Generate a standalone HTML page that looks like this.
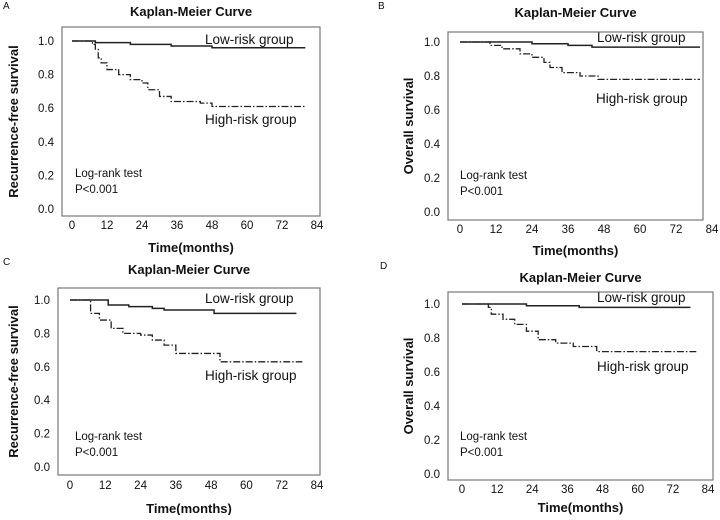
<!DOCTYPE html>
<html><head><meta charset="utf-8"><style>
body{margin:0;background:#fff;}
svg text{font-family:"Liberation Sans",sans-serif;fill:#111;}
</style></head><body>
<svg id="fig" width="720" height="515" viewBox="0 0 720 515"></svg>
<script>
const yTicks=[0,0.2,0.4,0.6,0.8,1.0];
const xTicks=[0,12,24,36,48,60,72,84];
const aLowT=[0,6,8,20,34,48,80], aLowS=[1,1,0.99,0.98,0.97,0.96,0.96];
const aHighT=[0,6,7,8,9,10,12,16,20,24,26,30,34,44,48,80], aHighS=[1,1,0.98,0.95,0.9,0.87,0.83,0.8,0.77,0.75,0.71,0.67,0.64,0.63,0.61,0.61];
const bLowT=[0,10,24,36,44,80], bLowS=[1,1,0.99,0.98,0.97,0.97];
const bHighT=[0,8,10,14,20,24,28,30,34,40,46,80], bHighS=[1,1,0.98,0.96,0.93,0.91,0.88,0.85,0.82,0.8,0.78,0.78];
const cLowT=[0,12,13,20,28,32,48,49,77], cLowS=[1,1,0.97,0.96,0.95,0.94,0.94,0.92,0.92];
const cHighT=[0,6,7,10,14,18,24,28,32,36,50,51,79], cHighS=[1,1,0.92,0.88,0.83,0.8,0.79,0.76,0.73,0.68,0.68,0.63,0.63];
const dLowT=[0,20,22,40,78], dLowS=[1,1,0.99,0.98,0.98];
const dHighT=[0,8,9,10,14,18,22,26,32,38,46,80], dHighS=[1,1,0.98,0.94,0.91,0.88,0.84,0.79,0.77,0.75,0.72,0.72];

const NS='http://www.w3.org/2000/svg';
const svg=document.getElementById('fig');
function mk(tag,attrs,parent,txt){const e=document.createElementNS(NS,tag);for(const k in attrs)e.setAttribute(k,attrs[k]);if(txt!==undefined)e.textContent=txt;(parent||svg).appendChild(e);return e;}

const panels=[
 {id:'a',letter:'A',lx:3,ly:9,box:[62,27,320,216],x0:72,x84:317,y1:41,y0:209,xl:225,xt:247,tt:12,ytitle:'Recurrence-free survival',yt:18,
  low:[aLowT,aLowS],high:[aHighT,aHighS],lowLab:[205,44],highLab:[205,124],lr:[75,177]},
 {id:'b',letter:'B',lx:378,ly:9,box:[448,32,703,220],x0:460,x84:712,y1:42,y0:212,xl:229,xt:250,tt:13,ytitle:'Overall survival',yt:413,
  low:[bLowT,bLowS],high:[bHighT,bHighS],lowLab:[597,42],highLab:[596,103],lr:[460,179]},
 {id:'c',letter:'C',lx:3,ly:265,box:[58,288,320,475],x0:70,x84:317,y1:300,y0:467,xl:485,xt:508,tt:270,ytitle:'Recurrence-free survival',yt:18,
  low:[cLowT,cLowS],high:[cHighT,cHighS],lowLab:[205,303],highLab:[205,380],lr:[75,440]},
 {id:'d',letter:'D',lx:380,ly:269,box:[448,292,713,480],x0:462,x84:708,y1:304,y0:474,xl:489,xt:507,tt:278,ytitle:'Overall survival',yt:413,
  low:[dLowT,dLowS],high:[dHighT,dHighS],lowLab:[597,302],highLab:[597,371],lr:[460,440]}
];

panels.forEach(p=>{
 const g=mk('g',{});
 
 
 const X=t=>p.x0+(p.x84-p.x0)*t/84, Y=s=>p.y0+(p.y1-p.y0)*s;
 const cx=(p.box[0]+p.box[2])/2, cy=(p.box[1]+p.box[3])/2;
 const L=mk('text',{x:p.lx,y:p.ly,'font-size':10},g,p.letter);
 
 const T=mk('text',{x:cx,y:p.tt+4,'font-size':13,'font-weight':'bold','text-anchor':'middle'},g,'Kaplan-Meier Curve');
 
 const B=mk('rect',{x:p.box[0],y:p.box[1],width:p.box[2]-p.box[0],height:p.box[3]-p.box[1],fill:'none',stroke:'#777','stroke-width':1.2},g);
 
 yTicks.forEach(v=>{const t=mk('text',{x:p.box[0]-8,y:Y(v)+4,'font-size':11.5,'text-anchor':'end'},g,v.toFixed(1));
  });
 xTicks.forEach(v=>{const t=mk('text',{x:X(v),y:p.xl+4,'font-size':11.5,'text-anchor':'middle'},g,String(v));
  });
 const xt=mk('text',{x:cx,y:p.xt+5,'font-size':13,'font-weight':'bold','text-anchor':'middle'},g,'Time(months)');
 
 const yt=mk('text',{x:0,y:0,'font-size':13,'font-weight':'bold','text-anchor':'middle',transform:`translate(${p.yt},${cy}) rotate(-90)`},g,p.ytitle);
 
 function step(T,S){let d='M'+X(T[0])+','+Y(S[0]);for(let i=1;i<T.length;i++){d+=' H'+X(T[i])+' V'+Y(S[i]);}return d;}
 const hl=mk('path',{d:step(p.high[0],p.high[1]),fill:'none',stroke:'#222','stroke-width':1.3,'stroke-dasharray':'7,2,1.5,2'},g);
 
 const ll=mk('path',{d:step(p.low[0],p.low[1]),fill:'none',stroke:'#222','stroke-width':1.5},g);
 
 const lt=mk('text',{x:p.lowLab[0],y:p.lowLab[1],'font-size':13.5},g,'Low-risk group');
 
 const ht=mk('text',{x:p.highLab[0],y:p.highLab[1],'font-size':13.5},g,'High-risk group');
 
 const r1=mk('text',{x:p.lr[0],y:p.lr[1],'font-size':11.5},g,'Log-rank test');
 
 const r2=mk('text',{x:p.lr[0],y:p.lr[1]+16,'font-size':11.5},g,'P<0.001');
 
});
</script>
</body></html>
